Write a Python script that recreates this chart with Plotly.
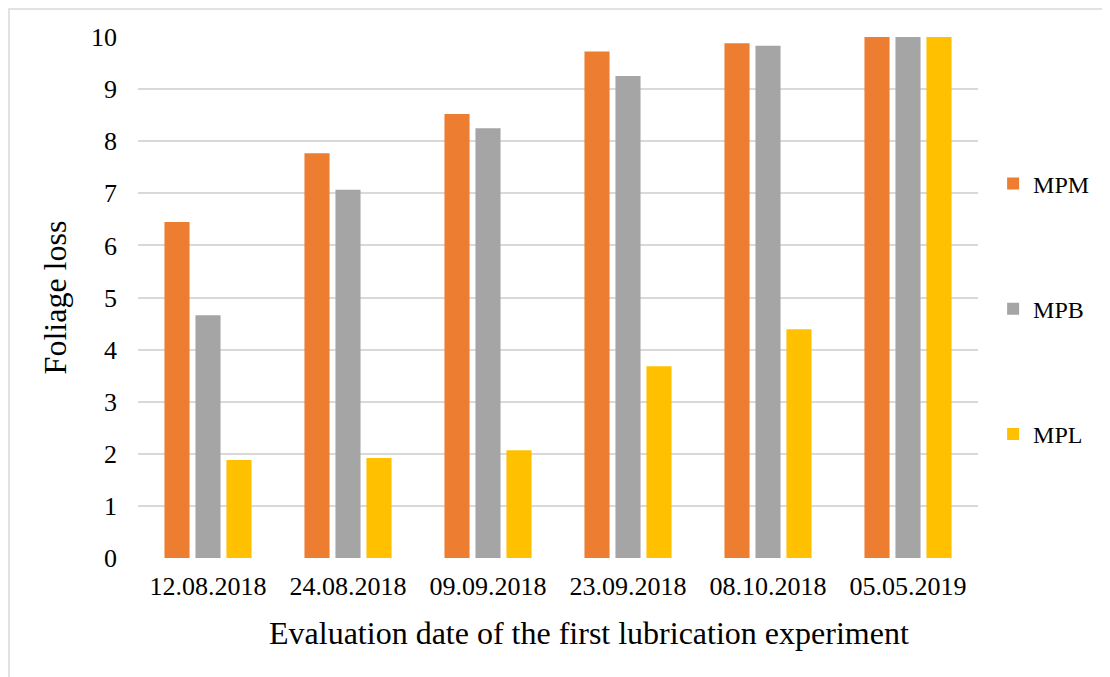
import plotly.graph_objects as go

dates = ["12.08.2018", "24.08.2018", "09.09.2018", "23.09.2018", "08.10.2018", "05.05.2019"]
mpm = [6.45, 7.77, 8.52, 9.72, 9.88, 10.0]
mpb = [4.66, 7.07, 8.25, 9.25, 9.83, 10.0]
mpl = [1.88, 1.92, 2.07, 3.68, 4.39, 10.0]
series = [("MPM", mpm, "#ED7D31"), ("MPB", mpb, "#A5A5A5"), ("MPL", mpl, "#FFC000")]
y_ticks = list(range(0, 11))
x_title = "Evaluation date of the first lubrication experiment"

# page body has an 8px margin, so the figure is sized to fill the rest of the window
W, H = 1102, 669
L, R, T, B = 130, 132, 29, 119
PW, PH = W - L - R, H - T - B

fig = go.Figure()
for i, (name, vals, col) in enumerate(series):
    fig.add_trace(go.Bar(x=dates, y=vals, name=name, marker=dict(color=col, line=dict(width=0)),
                         legendgroup=f"g{i}"))

font = "Liberation Serif, Times New Roman, serif"
fig.update_layout(
    width=W, height=H,
    margin=dict(l=L, r=R, t=T, b=B, autoexpand=False),
    paper_bgcolor="white", plot_bgcolor="white",
    font=dict(family=font, size=25, color="black"),
    barmode="group", bargap=0.336, bargroupgap=0.19,
    showlegend=True,
    legend=dict(x=1.018, y=0.761, xanchor="left", yanchor="top", tracegroupgap=91,
                font=dict(size=24, family=font), itemwidth=30),
    xaxis=dict(showgrid=False, showline=False, ticks="", tickfont=dict(size=26), ticklabelstandoff=10),
    yaxis=dict(range=[0, 10], tickvals=y_ticks, showgrid=True, gridcolor="#d9d9d9", gridwidth=1.5,
               zeroline=False, showline=False, ticks="", tickfont=dict(size=26), ticklabelstandoff=20,
               title=dict(text="Foliage loss", font=dict(size=32), standoff=14)),
)

# x-axis title (centred on the whole chart width, as in the original)
fig.add_annotation(text=x_title, xref="paper", yref="paper", x=(581 - L) / PW, y=(-75) / PH,
                   xanchor="center", yanchor="middle", showarrow=False,
                   font=dict(size=32, family=font, color="black"))

# outer chart-area border
fig.add_shape(type="rect", xref="paper", yref="paper",
              x0=(1 - L) / PW, x1=(W + 5 - L) / PW,
              y0=(-5 - B) / PH, y1=(H - 1 - B) / PH,
              line=dict(color="#d9d9d9", width=1.5), layer="below")

fig.write_html("out.html")
